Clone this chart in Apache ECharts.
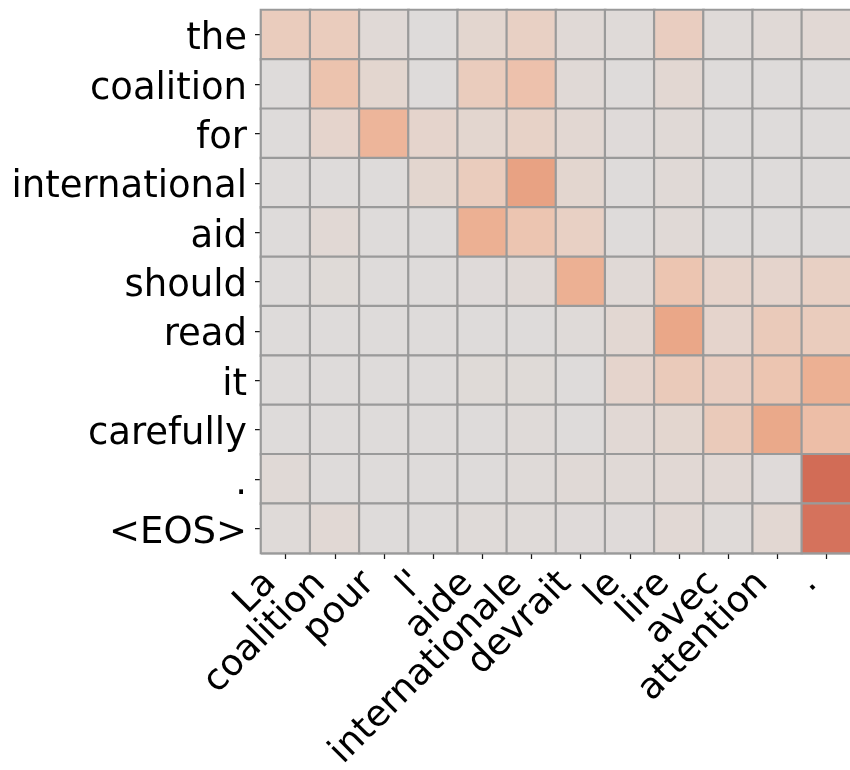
<!DOCTYPE html>
<html>
<head>
<meta charset="utf-8">
<title>Attention</title>
<script src="https://cdn.jsdelivr.net/npm/echarts@6/dist/echarts.min.js"></script>
<style>
  html, body { margin: 0; padding: 0; background: #ffffff; }
  #chart { width: 850px; height: 770px; }
</style>
</head>
<body>
<div id="chart"></div>
<script>
// Source tokens (French) along the x axis
const sourceTokens = ['La', 'coalition', 'pour', "l'", 'aide', 'internationale', 'devrait', 'le', 'lire', 'avec', 'attention', '.'];
// Output tokens (English) along the y axis, top to bottom
const targetTokens = ['the', 'coalition', 'for', 'international', 'aid', 'should', 'read', 'it', 'carefully', '.', '<EOS>'];

// Attention weight per output token, one value per source token
const rowThe           = [0.30, 0.30, 0.08, 0.02, 0.15, 0.25, 0.08, 0.05, 0.28, 0.05, 0.08, 0.10];
const rowCoalition     = [0.02, 0.40, 0.15, 0.02, 0.30, 0.42, 0.08, 0.03, 0.12, 0.03, 0.03, 0.03];
const rowFor           = [0.02, 0.18, 0.55, 0.18, 0.15, 0.22, 0.12, 0.04, 0.08, 0.03, 0.03, 0.03];
const rowInternational = [0.02, 0.03, 0.02, 0.15, 0.30, 0.75, 0.15, 0.03, 0.08, 0.03, 0.03, 0.03];
const rowAid           = [0.02, 0.10, 0.03, 0.03, 0.60, 0.38, 0.25, 0.03, 0.08, 0.03, 0.03, 0.03];
const rowShould        = [0.02, 0.06, 0.02, 0.02, 0.04, 0.08, 0.60, 0.08, 0.38, 0.20, 0.18, 0.25];
const rowRead          = [0.02, 0.02, 0.02, 0.02, 0.03, 0.03, 0.05, 0.12, 0.70, 0.18, 0.32, 0.30];
const rowIt            = [0.03, 0.03, 0.02, 0.02, 0.06, 0.06, 0.03, 0.18, 0.32, 0.28, 0.38, 0.60];
const rowCarefully     = [0.03, 0.03, 0.02, 0.02, 0.03, 0.05, 0.03, 0.10, 0.15, 0.32, 0.68, 0.45];
const rowPeriod        = [0.08, 0.03, 0.02, 0.02, 0.03, 0.05, 0.08, 0.08, 0.10, 0.10, 0.04, 1.00];
const rowEos           = [0.05, 0.10, 0.02, 0.02, 0.05, 0.05, 0.04, 0.04, 0.10, 0.05, 0.12, 0.97];

const weightRows = [rowThe, rowCoalition, rowFor, rowInternational, rowAid, rowShould,
                    rowRead, rowIt, rowCarefully, rowPeriod, rowEos];

// Flatten into [sourceIndex, targetIndex, weight] triples for the heatmap
const cells = [];
weightRows.forEach((row, yi) => {
  row.forEach((w, xi) => cells.push([xi, yi, w]));
});

const FONT = 'DejaVu Sans';
const chart = echarts.init(document.getElementById('chart'), null, { renderer: 'canvas' });

chart.setOption({
  animation: false,
  backgroundColor: '#ffffff',
  grid: { left: 261, top: 10, width: 590, height: 543, outerBoundsMode: 'none', containLabel: false },
  xAxis: [
    {
      type: 'category',
      position: 'bottom',
      data: sourceTokens,
      axisLine: { show: true, lineStyle: { color: '#1a1a1a', width: 1.25 } },
      axisTick: { show: true, alignWithLabel: true, length: 6, lineStyle: { color: '#1a1a1a', width: 1.25 } },
      axisLabel: {
        interval: 0,
        rotate: 45,
        margin: 10,
        align: 'right',
        verticalAlign: 'middle',
        padding: [0, 21, 0, 0],
        fontFamily: FONT,
        fontSize: 36.5,
        color: '#000000'
      },
      splitLine: { show: false }
    },
    {
      type: 'category',
      position: 'top',
      data: sourceTokens,
      axisLine: { show: true, lineStyle: { color: '#1a1a1a', width: 1.25 } },
      axisTick: { show: false },
      axisLabel: { show: false },
      splitLine: { show: false }
    }
  ],
  yAxis: {
    type: 'category',
    data: targetTokens,
    inverse: true,
    axisLine: { show: true, lineStyle: { color: '#1a1a1a', width: 1.25 } },
    axisTick: { show: true, alignWithLabel: true, length: 6, lineStyle: { color: '#1a1a1a', width: 1.25 } },
    axisLabel: {
      interval: 0,
      margin: 14,
      verticalAlign: 'middle',
      formatter: (v) => '{t|' + v + '}',
      rich: {
        t: {
          fontFamily: FONT,
          fontSize: 37,
          color: '#000000',
          padding: [10, 0, 0, 0]
        }
      },
      fontFamily: FONT,
      fontSize: 37,
      color: '#000000'
    },
    splitLine: { show: false }
  },
  visualMap: {
    show: false,
    type: 'continuous',
    min: 0,
    max: 1,
    dimension: 2,
    inRange: {
      color: ['#dddcdc', '#e2d7d2', '#e8d0c4', '#ecc5b2', '#eebaa0',
              '#ecae90', '#e8a283', '#de876d', '#d26c56']
    }
  },
  series: [{
    type: 'heatmap',
    data: cells,
    itemStyle: { borderColor: '#9a9a9a', borderWidth: 2.2 },
    emphasis: { disabled: true }
  }]
});
</script>
</body>
</html>
